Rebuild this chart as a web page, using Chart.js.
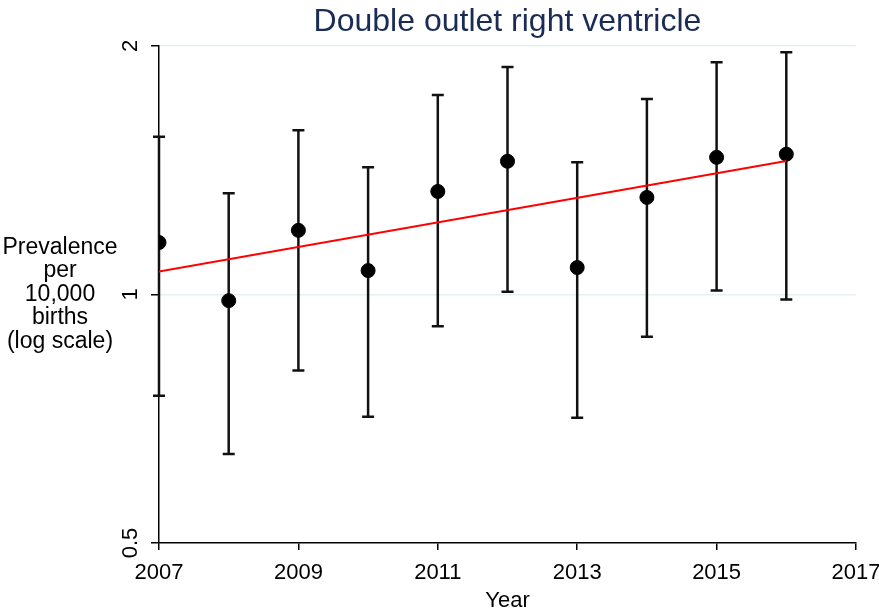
<!DOCTYPE html>
<html>
<head>
<meta charset="utf-8">
<script src="https://cdn.jsdelivr.net/npm/chart.js@4.4.1/dist/chart.umd.min.js"></script>
<style>
  body { margin: 0; background: #fff; }
  canvas { display: block; }
</style>
</head>
<body>
<canvas id="chart" width="879" height="612"></canvas>
<script>
// values
const years = [2007, 2008, 2009, 2010, 2011, 2012, 2013, 2014, 2015, 2016];
const prevalence = [1.156, 0.983, 1.196, 1.069, 1.333, 1.450, 1.078, 1.311, 1.466, 1.479];
const upperCI = [1.553, 1.326, 1.581, 1.426, 1.744, 1.886, 1.446, 1.725, 1.912, 1.965];
const lowerCI = [0.754, 0.641, 0.809, 0.711, 0.915, 1.008, 0.709, 0.889, 1.011, 0.986];
const trendYears = [2007, 2016];
const trendValues = [1.066, 1.451];
const yTicks = [0.5, 1, 2];
const yTitleLines = ['Prevalence', 'per', '10,000', 'births', '(log scale)'];

const FONT = "'Liberation Sans', Arial, sans-serif";

const errorBars = {
  id: 'errorBars',
  beforeDatasetsDraw(chart) {
    const { ctx, scales: { x, y } } = chart;
    ctx.save();
    ctx.strokeStyle = '#111';
    ctx.lineWidth = 2.5;
    years.forEach((yr, i) => {
      const px = x.getPixelForValue(yr);
      const top = y.getPixelForValue(upperCI[i]);
      const bot = y.getPixelForValue(lowerCI[i]);
      ctx.beginPath();
      ctx.moveTo(px, top);
      ctx.lineTo(px, bot);
      ctx.moveTo(px - 6, top);
      ctx.lineTo(px + 6, top);
      ctx.moveTo(px - 6, bot);
      ctx.lineTo(px + 6, bot);
      ctx.stroke();
    });
    ctx.restore();
  }
};

const axisText = {
  id: 'axisText',
  afterDraw(chart) {
    const { ctx, scales: { y } } = chart;
    ctx.save();
    ctx.fillStyle = '#000';
    ctx.font = '22px ' + FONT;
    ctx.textAlign = 'center';
    ctx.textBaseline = 'middle';
    yTicks.forEach(v => {
      ctx.save();
      ctx.translate(131, y.getPixelForValue(v));
      ctx.rotate(-Math.PI / 2);
      ctx.fillText(String(v), 0, 0);
      ctx.restore();
    });
    ctx.font = '23px ' + FONT;
    const mid = y.getPixelForValue(1);
    yTitleLines.forEach((t, i) => {
      ctx.fillText(t, 60, mid + (i - 2) * 23.5);
    });
    ctx.restore();
  }
};

new Chart(document.getElementById('chart'), {
  type: 'scatter',
  data: {
    datasets: [
      {
        type: 'line',
        label: 'Trend',
        data: trendYears.map((yr, i) => ({ x: yr, y: trendValues[i] })),
        borderColor: 'rgb(255, 0, 0)',
        borderWidth: 2,
        pointRadius: 0,
        fill: false,
      },
      {
        label: 'Prevalence',
        data: years.map((yr, i) => ({ x: yr, y: prevalence[i] })),
        backgroundColor: '#000',
        borderColor: '#000',
        pointRadius: 7,
      },
    ],
  },
  options: {
    responsive: false,
    animation: false,
    layout: { padding: { left: 0, right: 23, top: 0, bottom: 0 } },
    plugins: {
      legend: { display: false },
      tooltip: { enabled: false },
      title: {
        display: true,
        text: 'Double outlet right ventricle',
        fullSize: false,
        color: '#1a2b55',
        font: { family: FONT, size: 32, weight: 'normal' },
        padding: { top: 2.8, bottom: 4.8 },
      },
    },
    scales: {
      x: {
        type: 'linear',
        min: 2007,
        max: 2017,
        afterFit(scale) {
          scale.height = 69;
          scale.paddingLeft = 0;
          scale.paddingRight = 0;
        },
        border: { color: '#000', width: 1.5 },
        grid: { drawOnChartArea: false, tickColor: '#000', tickLength: 7, lineWidth: 1.5 },
        ticks: {
          stepSize: 2,
          padding: 10,
          color: '#000',
          font: { family: FONT, size: 22 },
          callback: v => String(v),
        },
        title: {
          display: true,
          text: 'Year',
          color: '#000',
          font: { family: FONT, size: 22, lineHeight: 1 },
          padding: { top: 0, bottom: 0 },
        },
      },
      y: {
        type: 'logarithmic',
        min: 0.5,
        max: 2,
        afterFit(scale) { scale.width = 159; },
        afterBuildTicks(scale) { scale.ticks = yTicks.map(v => ({ value: v })); },
        border: { color: '#000', width: 1.5 },
        grid: {
          color: ctx => (ctx.tick && ctx.tick.value === 0.5 ? 'rgba(0,0,0,0)' : '#e6eff1'),
          tickColor: '#000',
          tickLength: 8,
          lineWidth: 1.5,
        },
        ticks: { display: false },
      },
    },
  },
  plugins: [errorBars, axisText],
});
</script>
</body>
</html>
